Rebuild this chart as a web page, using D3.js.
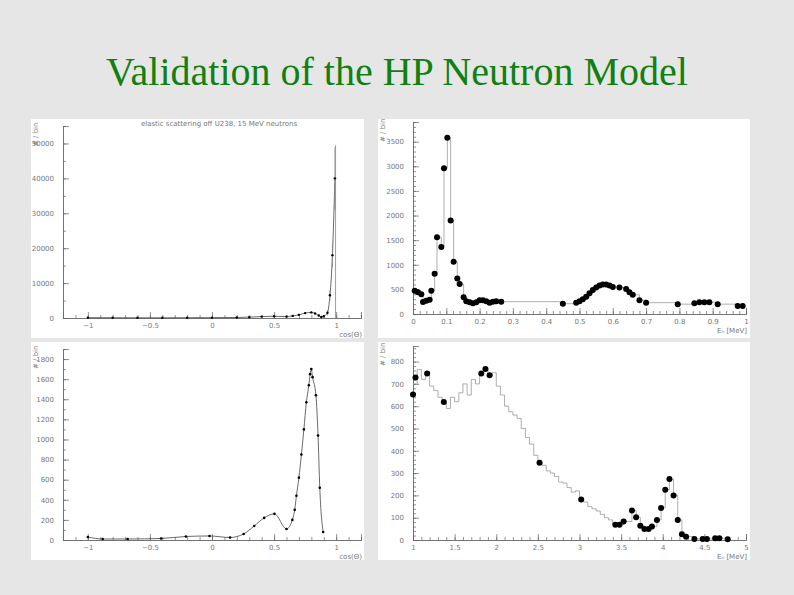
<!DOCTYPE html>
<html><head><meta charset="utf-8">
<script src="https://cdn.jsdelivr.net/npm/d3@7"></script>
<style>
body{margin:0;background:#e6e6e6;}
svg{display:block;}
.ax text{font-family:"DejaVu Sans",sans-serif;font-size:7px;fill:#777;}
.ax path,.ax line{stroke:#666;stroke-width:0.7;}
.lab{font-family:"DejaVu Sans",sans-serif;font-size:7px;fill:#777;}
</style></head><body>
<script>
// panel 1: elastic scattering, whole range
var p1x = [-1,-0.8,-0.6,-0.4,-0.2,0,0.2,0.3,0.4,0.5,0.6,0.65,0.7,0.75,0.8,0.83,0.86,0.88,0.9,0.93,0.95,0.97,0.99];
var p1y = [100,80,60,60,80,100,150,250,400,500,400,600,900,1400,1600,1300,700,300,500,1500,6500,18000,40000];
var p1err = [0,0,0,0,0,0,0,0,0,0,0,0,0,0,0,0,0,0,0,800,1500,3500,9000];
var p1ticks = [-1,-0.5,0,0.5,1];
var p1yticks = [0,10000,20000,30000,40000,50000];

// panel 2: low energy spectrum
var p2x = [0.005,0.015,0.025,0.03,0.04,0.05,0.055,0.065,0.072,0.085,0.093,0.103,0.113,0.122,0.133,0.14,0.152,0.16,0.17,0.18,0.19,0.2,0.21,0.22,0.23,0.24,0.25,0.265,0.45,0.49,0.5,0.51,0.52,0.53,0.54,0.55,0.56,0.57,0.58,0.59,0.6,0.62,0.64,0.65,0.66,0.68,0.7,0.795,0.845,0.86,0.875,0.89,0.915,0.975,0.99];
var p2y = [470,440,400,245,270,290,470,820,1560,1360,2960,3580,1900,1060,720,610,340,260,240,220,240,280,280,260,230,250,260,250,210,230,260,300,350,420,490,540,580,600,600,580,550,540,510,440,390,280,230,200,220,240,240,240,200,160,160];
var p2ticks = [0,0.1,0.2,0.3,0.4,0.5,0.6,0.7,0.8,0.9,1];
var p2yticks = [0,500,1000,1500,2000,2500,3000,3500];

// panel 3: elastic scattering, angular distribution
var p3x = [-1,-0.88,-0.68,-0.41,-0.21,-0.02,0.145,0.255,0.34,0.42,0.503,0.6,0.647,0.666,0.68,0.70,0.72,0.74,0.76,0.78,0.79,0.80,0.81,0.837,0.854,0.868,0.895];
var p3y = [30,10,10,15,35,40,25,60,140,220,260,110,200,300,440,620,850,1100,1370,1540,1650,1700,1620,1440,1040,520,80];
var p3ticks = [-1,-0.5,0,0.5,1];
var p3yticks = [0,200,400,600,800,1000,1200,1400,1600,1800];

// panel 4: high energy spectrum, histogram + points
var h4x = [1,1.05,1.1,1.15,1.2,1.25,1.3,1.35,1.4,1.45,1.5,1.55,1.6,1.65,1.7,1.75,1.8,1.85,1.9,1.95,2,2.05,2.1,2.15,2.2,2.25,2.3,2.35,2.4,2.45,2.5,2.55,2.6,2.65,2.7,2.75,2.8,2.85,2.9,2.95,3,3.05,3.1,3.15,3.2,3.25,3.3,3.35,3.4];
var h4y = [700,765,720,755,690,670,640,615,590,640,620,660,700,650,720,700,745,770,735,750,690,650,600,575,560,545,500,460,430,380,350,335,310,300,285,260,255,235,215,220,185,170,150,140,130,115,100,90,70];
var p4x = [1.0,1.03,1.17,1.37,1.82,1.87,1.92,2.52,3.02,3.43,3.48,3.53,3.63,3.68,3.73,3.78,3.83,3.87,3.93,3.98,4.03,4.08,4.13,4.18,4.23,4.28,4.38,4.48,4.53,4.63,4.68,4.78];
var p4y = [653,729,747,619,747,767,739,346,182,68,68,83,132,102,64,49,49,61,90,144,225,273,200,90,26,15,5,5,5,8,8,3];
var p4ticks = [1,1.5,2,2.5,3,3.5,4,4.5,5];
var p4yticks = [0,100,200,300,400,500,600,700,800];

var svg = d3.select("body").append("svg").attr("width",794).attr("height",595);

svg.append("text").attr("x",397).attr("y",85).attr("text-anchor","middle")
   .style("font-family","'Liberation Serif',serif").style("font-size","40px").style("fill","#108010")
   .text("Validation of the HP Neutron Model");

function panel(o) {
  svg.append("rect").attr("x",o.box[0]).attr("y",o.box[1]).attr("width",o.box[2]).attr("height",o.box[3]).attr("fill","#fff");
  var x = d3.scaleLinear().domain(o.xd).range(o.xr);
  var y = d3.scaleLinear().domain(o.yd).range(o.yr);
  var g = svg.append("g");
  // minor ticks
  g.append("g").attr("class","ax").attr("transform","translate(0,"+o.yr[0]+")")
   .call(d3.axisBottom(x).tickValues(d3.range(o.xd[0],o.xd[1]+1e-9,o.xminor)).tickSize(-3).tickFormat(""));
  g.append("g").attr("class","ax").attr("transform","translate("+o.xr[0]+",0)")
   .call(d3.axisLeft(y).tickValues(d3.range(o.yd[0],o.yd[1]+1e-9,o.yminor)).tickSize(-3).tickFormat(""));
  g.append("g").attr("class","ax").attr("transform","translate(0,"+o.yr[0]+")")
   .call(d3.axisBottom(x).tickValues(o.xt).tickSize(-6).tickPadding(5).tickFormat(d3.format("")));
  g.append("g").attr("class","ax").attr("transform","translate("+o.xr[0]+",0)")
   .call(d3.axisLeft(y).tickValues(o.yt).tickSize(-6).tickPadding(9).tickFormat(d3.format("")));
  svg.append("text").attr("class","lab").attr("x",o.xr[1]+1).attr("y",o.yr[0]+19).attr("text-anchor","end").text(o.xl);
  svg.append("text").attr("class","lab").attr("transform","translate("+(o.box[0]+7)+","+(o.yr[1]+20)+") rotate(-90)").text(o.yl);
  return {x:x,y:y};
}

var lineCol = "#999";

// Panel 1
var s1 = panel({box:[31,119,333,219],xd:[-1.2,1.2],xr:[63,361],yd:[0,55000],yr:[318,126],
  xt:p1ticks,yt:p1yticks,xminor:0.1,yminor:5000,xl:"cos(Θ)",yl:"# / bin"});
svg.append("text").attr("class","lab").attr("x",219).attr("y",126).attr("text-anchor","middle").text("elastic scattering off U238, 15 MeV neutrons");
svg.append("path").datum(p1x.map(function(d,i){return [d,p1y[i]];}))
  .attr("fill","none").attr("stroke","#444").attr("stroke-width",0.8)
  .attr("d",d3.line().x(function(d){return s1.x(d[0]);}).y(function(d){return s1.y(d[1]);}).curve(d3.curveMonotoneX));
svg.selectAll(".e1").data(p1x).enter().append("line")
  .attr("x1",function(d){return s1.x(d);}).attr("x2",function(d){return s1.x(d);})
  .attr("y1",function(d,i){return s1.y(p1y[i]-p1err[i]);}).attr("y2",function(d,i){return s1.y(p1y[i]+p1err[i]);})
  .attr("stroke","#888").attr("stroke-width",0.8);
svg.append("line").attr("x1",s1.x(0.995)).attr("x2",s1.x(0.995)).attr("y1",s1.y(0)).attr("y2",s1.y(49500)).attr("stroke","#888").attr("stroke-width",0.8);
svg.selectAll(".d1").data(p1x).enter().append("circle")
  .attr("cx",function(d){return s1.x(d);}).attr("cy",function(d,i){return s1.y(p1y[i]);}).attr("r",1.2).attr("fill","#000");

// Panel 2
var s2 = panel({box:[378,119,372,219],xd:[0,1],xr:[413,746],yd:[0,3900],yr:[314,122],
  xt:p2ticks,yt:p2yticks,xminor:0.02,yminor:100,xl:"Eₙ [MeV]",yl:"# / bin"});
svg.append("path").datum(p2x.map(function(d,i){return [d,p2y[i]];}))
  .attr("fill","none").attr("stroke",lineCol).attr("stroke-width",0.8)
  .attr("d",d3.line().x(function(d){return s2.x(d[0]);}).y(function(d){return s2.y(d[1]);}).curve(d3.curveStepAfter));
svg.selectAll(".d2").data(p2x).enter().append("circle")
  .attr("cx",function(d){return s2.x(d);}).attr("cy",function(d,i){return s2.y(p2y[i]);}).attr("r",3).attr("fill","#000");

// Panel 3
var s3 = panel({box:[31,342,333,218],xd:[-1.2,1.2],xr:[63,361],yd:[0,1900],yr:[540,349],
  xt:p3ticks,yt:p3yticks,xminor:0.1,yminor:100,xl:"cos(Θ)",yl:"# / bin"});
svg.append("path").datum(p3x.map(function(d,i){return [d,p3y[i]];}))
  .attr("fill","none").attr("stroke","#444").attr("stroke-width",0.8)
  .attr("d",d3.line().x(function(d){return s3.x(d[0]);}).y(function(d){return s3.y(d[1]);}).curve(d3.curveMonotoneX));
svg.selectAll(".d3").data(p3x).enter().append("circle")
  .attr("cx",function(d){return s3.x(d);}).attr("cy",function(d,i){return s3.y(p3y[i]);}).attr("r",1.3).attr("fill","#000");

// Panel 4
var s4 = panel({box:[378,342,372,218],xd:[1,5],xr:[413,746],yd:[0,870],yr:[540,346],
  xt:p4ticks,yt:p4yticks,xminor:0.1,yminor:20,xl:"Eₙ [MeV]",yl:"# / bin"});
svg.append("path").datum(h4x.map(function(d,i){return [d,h4y[i]];}).concat(p4x.slice(9).map(function(d,i){return [d,p4y[i+9]];})))
  .attr("fill","none").attr("stroke",lineCol).attr("stroke-width",0.8)
  .attr("d",d3.line().x(function(d){return s4.x(d[0]);}).y(function(d){return s4.y(d[1]);}).curve(d3.curveStepAfter));
svg.selectAll(".d4").data(p4x).enter().append("circle")
  .attr("cx",function(d){return s4.x(d);}).attr("cy",function(d,i){return s4.y(p4y[i]);}).attr("r",3).attr("fill","#000");
</script>
</body></html>
